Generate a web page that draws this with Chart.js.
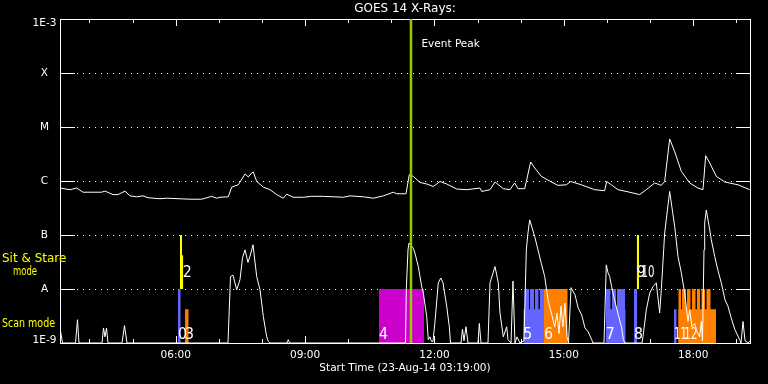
<!DOCTYPE html>
<html>
<head>
<meta charset="utf-8">
<title>GOES 14 X-Rays</title>
<script src="https://cdn.jsdelivr.net/npm/chart.js@4.4.0/dist/chart.umd.min.js"></script>
<style>
  html, body { margin: 0; padding: 0; background: #000; }
  #wrap { width: 768px; height: 384px; }
</style>
</head>
<body>
<div id="wrap"><canvas id="goes" width="768" height="384"></canvas></div>
<script>
// Times are decimal hours UT on 23-Aug-14, flux in W/m^2
const startHour = 3 + 19 / 60;
const endHour = startHour + 16;

// 1-8 A channel
const longTimes = [3.317, 3.549, 3.704, 3.850, 4.284, 4.360, 4.546, 4.661, 4.824, 4.940, 5.095, 5.241, 5.357, 5.635, 5.791,
  6.331, 6.602, 6.834, 6.950, 7.027, 7.219, 7.298, 7.451, 7.607, 7.683, 7.762, 7.799, 7.878, 8.031, 8.186, 8.342, 8.494,
  8.573, 8.726, 8.958, 9.153, 9.422, 9.886, 10.041, 10.350, 10.581, 10.813, 11.045, 11.124, 11.340, 11.416, 11.509,
  11.664, 11.820, 11.973, 12.128, 12.284, 12.515, 12.747, 13.056, 13.095, 13.288, 13.404, 13.596, 13.751, 13.860,
  13.937, 14.092, 14.130, 14.231, 14.324, 14.477, 14.709, 14.864, 15.057, 15.159, 15.405, 15.715, 15.947, 15.993,
  16.100, 16.256, 16.487, 16.759, 16.912, 17.107, 17.260, 17.338, 17.454, 17.570, 17.724, 17.918, 18.110, 18.226,
  18.289, 18.382, 18.535, 18.730, 19.038, 19.310];
const longFlux = [7.4e-7, 6.9e-7, 7.4e-7, 6.2e-7, 6.2e-7, 6.5e-7, 5.6e-7, 5.6e-7, 6.5e-7, 5.3e-7, 5.1e-7, 5.3e-7, 4.9e-7, 4.7e-7, 4.8e-7,
  4.6e-7, 4.6e-7, 5.2e-7, 4.8e-7, 5.0e-7, 5.1e-7, 7.7e-7, 8.5e-7, 1.35e-6, 1.19e-6, 1.41e-6, 1.47e-6, 9.8e-7, 7.7e-7, 6.9e-7, 5.6e-7, 4.8e-7,
  5.7e-7, 5.0e-7, 5.0e-7, 5.2e-7, 5.2e-7, 5.0e-7, 5.3e-7, 5.1e-7, 4.8e-7, 5.3e-7, 6.2e-7, 5.8e-7, 5.8e-7, 1.31e-6, 1.22e-6,
  9.4e-7, 8.8e-7, 7.9e-7, 9.8e-7, 8.8e-7, 7.1e-7, 6.9e-7, 7.4e-7, 6.4e-7, 6.9e-7, 9.6e-7, 7.2e-7, 6.9e-7, 9.2e-7,
  7.2e-7, 7.2e-7, 9.8e-7, 2.25e-6, 1.74e-6, 1.22e-6, 9.6e-7, 8.3e-7, 8.5e-7, 9.8e-7, 8.5e-7, 6.9e-7, 6.6e-7, 9.8e-7,
  8.5e-7, 6.9e-7, 6.3e-7, 5.6e-7, 6.9e-7, 9.2e-7, 8.3e-7, 9.8e-7, 6.0e-6, 3.5e-6, 1.51e-6, 9.2e-7, 7.4e-7, 6.9e-7,
  2.94e-6, 2.16e-6, 1.22e-6, 9.6e-7, 8.5e-7, 6.9e-7];

// 0.5-4 A channel
const shortTimes = [3.317, 3.375, 3.676, 3.722, 3.757, 4.291, 4.325, 4.360, 4.395, 4.430, 4.754, 4.812, 4.870,
  7.212, 7.270, 7.328, 7.414, 7.491, 7.549, 7.607, 7.676, 7.746, 7.792, 7.878, 7.954, 8.031, 8.110, 8.147, 8.186,
  8.580, 8.610, 8.638, 11.328, 11.347, 11.386, 11.409, 11.509, 11.548, 11.625, 11.704, 11.741, 11.820, 11.857,
  11.896, 11.931, 11.966, 12.012, 12.089, 12.145, 12.198, 12.284, 12.344, 12.372, 12.615, 12.650, 12.685, 12.731,
  12.778, 13.010, 13.040, 13.079, 13.241, 13.288, 13.404, 13.480, 13.519, 13.596, 13.675, 13.705, 13.775, 13.821,
  13.867, 13.914, 13.983, 14.076, 14.130, 14.169, 14.208, 14.324, 14.400, 14.477, 14.556, 14.633, 14.709, 14.788,
  14.841, 14.887, 14.934, 14.980, 15.027, 15.073, 15.108, 15.166, 15.258, 15.335, 15.414, 15.490, 15.567, 15.646,
  15.676, 15.931, 15.984, 16.024, 16.063, 16.109, 16.186, 16.263, 16.341, 16.379, 16.418, 16.812, 16.835, 16.912,
  16.991, 17.067, 17.144, 17.222, 17.260, 17.315, 17.338, 17.454, 17.570, 17.647, 17.724, 17.802, 17.879, 17.918,
  17.972, 18.035, 18.088, 18.151, 18.188, 18.215, 18.250, 18.266, 18.303, 18.366, 18.419, 18.498, 18.574, 18.651,
  18.737, 18.806, 18.876, 18.962, 19.078, 19.108, 19.155, 19.201, 19.271, 19.317];
const shortFlux = [1.9e-9, 1e-9, 1e-9, 2.7e-9, 1e-9, 1e-9, 1.9e-9, 1.3e-9, 1.9e-9, 1e-9, 1e-9, 2.1e-9, 1e-9,
  1e-9, 1.7e-8, 1.8e-8, 9.7e-9, 1.5e-8, 3.8e-8, 5.3e-8, 3.1e-8, 4.7e-8, 6.6e-8, 1.7e-8, 9.7e-9, 3.1e-9, 1.3e-9, 1.07e-9, 1e-9,
  1e-9, 1.15e-9, 1e-9, 1e-9, 9.7e-9, 5.3e-8, 7.1e-8, 5.7e-8, 4.6e-8, 2.6e-8, 1.1e-8, 8.5e-9, 3.1e-9, 1.15e-9,
  1.3e-9, 1.07e-9, 1.07e-9, 2.5e-9, 1.3e-8, 1.6e-8, 1.3e-8, 4.8e-9, 2.0e-9, 1e-9, 1e-9, 1.8e-9, 1.1e-9, 2.0e-9,
  1e-9, 1e-9, 2.3e-9, 1e-9, 1e-9, 1.3e-8, 2.6e-8, 1.3e-8, 3.6e-9, 1.3e-9, 2.0e-9, 1.15e-9, 1e-9, 1.4e-8,
  1e-9, 1.3e-9, 1e-9, 1.1e-9, 5.3e-8, 1.1e-7, 1.9e-7, 9.4e-8, 5.3e-8, 3.0e-8, 1.7e-8, 6.3e-9, 3.6e-9, 2.0e-9,
  3.6e-9, 1.5e-9, 4.8e-9, 2.0e-9, 5.5e-9, 1.3e-9, 1e-9, 1.06e-8, 7.8e-9, 4.4e-9, 3.3e-9, 1.9e-9, 1.6e-9, 1.15e-9,
  1e-9, 1e-9, 2.8e-8, 2.0e-8, 1.7e-8, 1.1e-8, 5.8e-9, 3.3e-9, 1.9e-9, 1.15e-9, 1e-9, 1e-9, 1.3e-9, 4.1e-9,
  8.4e-9, 1.1e-8, 1.3e-8, 3.6e-9, 9.7e-9, 5.3e-8, 1.09e-7, 6.4e-7, 1.44e-7, 4.0e-8, 2.0e-8, 8.4e-9, 2.5e-9, 4.1e-9,
  2.0e-9, 2.3e-9, 1.6e-9, 1.3e-9, 2.5e-9, 1.1e-9, 5.3e-8, 1.67e-7, 2.9e-7, 1.5e-7, 8.2e-8, 4.0e-8, 2.2e-8, 1.3e-8,
  6.3e-9, 4.8e-9, 3.0e-9, 1.8e-9, 1.15e-9, 1e-9, 2.5e-9, 1.1e-9, 1e-9, 1.1e-9];

const eventPeakTime = 11.455;

// observation intervals (scan mode below A, sit & stare between A and B)
const obsStart = [6.053, 6.099, 6.146, 6.216, 10.714, 14.060, 14.083, 14.215, 14.331, 14.440, 14.540, 15.970, 15.970,
  16.110, 16.233, 16.627, 16.690, 17.554, 17.654, 17.654, 17.740, 17.856, 17.965, 18.081, 18.187, 18.303];
const obsEnd = [6.116, 6.146, 6.176, 6.301, 11.758, 14.540, 14.192, 14.308, 14.417, 14.540, 15.090, 16.434, 16.086,
  16.209, 16.418, 16.704, 16.743, 17.617, 18.528, 17.717, 17.833, 17.942, 18.058, 18.164, 18.280, 18.405];
const obsLow = [1e-9, 1e-8, 1e-8, 1e-9, 1e-9, 1e-9, 1e-9, 1e-9, 1e-9, 1e-9, 1e-9, 1e-9, 1e-9,
  1e-9, 1e-9, 1e-9, 1e-8, 1e-9, 1e-9, 1e-9, 1e-9, 1e-9, 1e-9, 1e-9, 1e-9, 1e-9];
const obsHigh = [1e-8, 1e-7, 4.2e-8, 4.2e-9, 1e-8, 4.2e-9, 1e-8, 1e-8, 1e-8, 1e-8, 1e-8, 4.2e-9, 1e-8,
  1e-8, 1e-8, 1e-8, 1e-7, 4.2e-9, 4.2e-9, 1e-8, 1e-8, 1e-8, 1e-8, 1e-8, 1e-8, 1e-8];
const obsKind = ['scanA', 'sit', 'sit', 'scanB', 'scanC', 'scanA', 'scanA', 'scanA', 'scanA', 'scanA', 'scanB', 'scanA', 'scanA',
  'scanA', 'scanA', 'scanA', 'sit', 'scanA', 'scanB', 'scanB', 'scanB', 'scanB', 'scanB', 'scanB', 'scanB', 'scanB'];

const obsLabels = ['0', '2', '3', '4', '5', '6', '7', '8', '9', '10', '11', '12'];
const obsLabelTimes = [6.053, 6.162, 6.216, 10.714, 14.060, 14.540, 15.970, 16.627, 16.690, 16.800, 17.554, 17.790];
const obsLabelRows = ['scan', 'sit', 'scan', 'scan', 'scan', 'scan', 'scan', 'scan', 'sit', 'sit', 'scan', 'scan'];

const hourTicks = [6, 9, 12, 15, 18];
const hourTickLabels = ['06:00', '09:00', '12:00', '15:00', '18:00'];
const classTicks = [1e-9, 1e-8, 1e-7, 1e-6, 1e-5, 1e-4, 1e-3];
const classTickLabels = ['1E-9', 'A', 'B', 'C', 'M', 'X', '1E-3'];

const programColors = { scanA: '#6464ff', scanB: '#ff8000', scanC: '#cc00cc', sit: '#ffff00' };
const axisFont = { family: 'DejaVu Sans', size: 10.5 };

Chart.defaults.font.family = 'DejaVu Sans';
Chart.defaults.color = '#fff';

// dotted class levels, inward hour ticks and the text annotations
const goesFrame = {
  id: 'goesFrame',
  beforeDatasetsDraw(chart) {
    const { ctx, chartArea: a, scales: { x, y } } = chart;
    ctx.save();
    ctx.fillStyle = '#fff';
    classTicks.slice(1, -1).forEach(v => {
      const py = Math.round(y.getPixelForValue(v));
      ctx.fillRect(a.left, py, 15, 1);
      ctx.fillRect(a.right - 14, py, 14, 1);
      for (let px = a.left + 17; px < a.right - 15; px += 6) ctx.fillRect(px, py, 1, 1);
    });
    for (let h = Math.ceil(x.min); h <= Math.floor(x.max); h++) {
      const px = Math.round(x.getPixelForValue(h));
      const len = hourTicks.includes(h) ? 7 : 4;
      ctx.fillRect(px, a.top, 1, len);
      ctx.fillRect(px, a.bottom - len, 1, len);
    }
    ctx.restore();
  },
  afterDatasetsDraw(chart) {
    const { ctx, chartArea: a, scales: { x, y } } = chart;
    ctx.save();
    ctx.textBaseline = 'alphabetic';
    ctx.textAlign = 'left';
    ctx.fillStyle = '#fff';
    ctx.font = '16px "DejaVu Sans"';
    obsLabels.forEach((txt, i) => {
      const px = x.getPixelForValue(obsLabelTimes[i]);
      const py = obsLabelRows[i] === 'sit' ? y.getPixelForValue(1e-8) - 12 : a.bottom - 4;
      ctx.fillText(txt, px, py, txt.length > 1 ? 13 : 9);
    });

    ctx.font = '10.5px "DejaVu Sans"';
    ctx.fillText('Event Peak', x.getPixelForValue(eventPeakTime) + 10.5, a.top + 27.5);

    // end labels of the flux axis sit just inside the frame
    ctx.textAlign = 'center';
    ctx.textBaseline = 'middle';
    ctx.fillText(classTickLabels[classTickLabels.length - 1], 44.5, a.top + 4);
    ctx.fillText(classTickLabels[0], 44.5, a.bottom - 3);

    ctx.textAlign = 'left';
    ctx.textBaseline = 'alphabetic';
    ctx.fillStyle = '#ffff00';
    ctx.font = '12px "DejaVu Sans"';
    ctx.fillText('Sit & Stare', 2, 262, 65);
    ctx.fillText('mode', 13, 275, 24);
    ctx.fillText('Scan mode', 2, 327, 53);
    ctx.restore();
  }
};

const lineStyle = { borderColor: '#fff', borderWidth: 1, pointRadius: 0, fill: false, tension: 0, order: 2 };

const datasets = [
  {
    ...lineStyle,
    data: longTimes.map((t, i) => ({ x: t, y: longFlux[i] }))
  },
  {
    ...lineStyle,
    data: shortTimes.map((t, i) => ({ x: t, y: shortFlux[i] }))
  },
  {
    data: [{ x: eventPeakTime, y: 1e-9 }, { x: eventPeakTime, y: 1e-3 }],
    borderColor: '#99cc00',
    borderWidth: 2.5,
    pointRadius: 0,
    fill: false,
    order: 1
  },
  ...obsStart.map((t0, i) => ({
    data: [{ x: t0, y: obsHigh[i] }, { x: obsEnd[i], y: obsHigh[i] }],
    backgroundColor: programColors[obsKind[i]],
    borderWidth: 0,
    pointRadius: 0,
    fill: { value: obsLow[i] },
    order: 3
  }))
];

const hiddenAxis = {
  ticks: { display: false },
  grid: { display: false, drawTicks: false },
  border: { display: true, color: '#fff', width: 1 }
};

new Chart(document.getElementById('goes'), {
  type: 'line',
  data: { datasets },
  options: {
    responsive: false,
    animation: false,
    devicePixelRatio: 1,
    events: [],
    layout: { padding: 0, autoPadding: false },
    plugins: { legend: { display: false }, tooltip: { enabled: false } },
    scales: {
      x: {
        type: 'linear',
        position: 'bottom',
        min: startHour,
        max: endHour,
        afterBuildTicks: scale => { scale.ticks = hourTicks.map(v => ({ value: v })); },
        afterFit: scale => { scale.height = 41; },
        ticks: {
          color: '#fff',
          font: axisFont,
          padding: 6,
          autoSkip: false,
          maxRotation: 0,
          callback: (v) => hourTickLabels[hourTicks.indexOf(v)]
        },
        grid: { display: false, drawTicks: false },
        border: { display: true, color: '#fff', width: 1 },
        title: {
          display: true,
          text: 'Start Time (23-Aug-14 03:19:00)',
          color: '#fff',
          font: axisFont,
          padding: { top: 0, bottom: 9 }
        }
      },
      y: {
        type: 'logarithmic',
        position: 'left',
        min: 1e-9,
        max: 1e-3,
        afterBuildTicks: scale => { scale.ticks = classTicks.map(v => ({ value: v })); },
        afterFit: scale => { scale.width = 60; },
        ticks: {
          color: '#fff',
          font: axisFont,
          padding: 11,
          crossAlign: 'center',
          autoSkip: false,
          // the two end labels are drawn by the plugin
          callback: (v, i) => (i === 0 || i === classTickLabels.length - 1) ? '' : classTickLabels[i]
        },
        grid: { display: false, drawTicks: false },
        border: { display: true, color: '#fff', width: 1 }
      },
      xTop: {
        type: 'linear',
        position: 'top',
        min: startHour,
        max: endHour,
        ...hiddenAxis,
        afterFit: scale => { scale.height = 19; },
        title: {
          display: true,
          text: 'GOES 14 X-Rays:',
          color: '#fff',
          font: { family: 'DejaVu Sans', size: 12 },
          padding: { top: 2, bottom: 0 }
        }
      },
      yRight: {
        type: 'logarithmic',
        position: 'right',
        min: 1e-9,
        max: 1e-3,
        ...hiddenAxis,
        afterFit: scale => { scale.width = 18; }
      }
    }
  },
  plugins: [goesFrame]
});
</script>
</body>
</html>
